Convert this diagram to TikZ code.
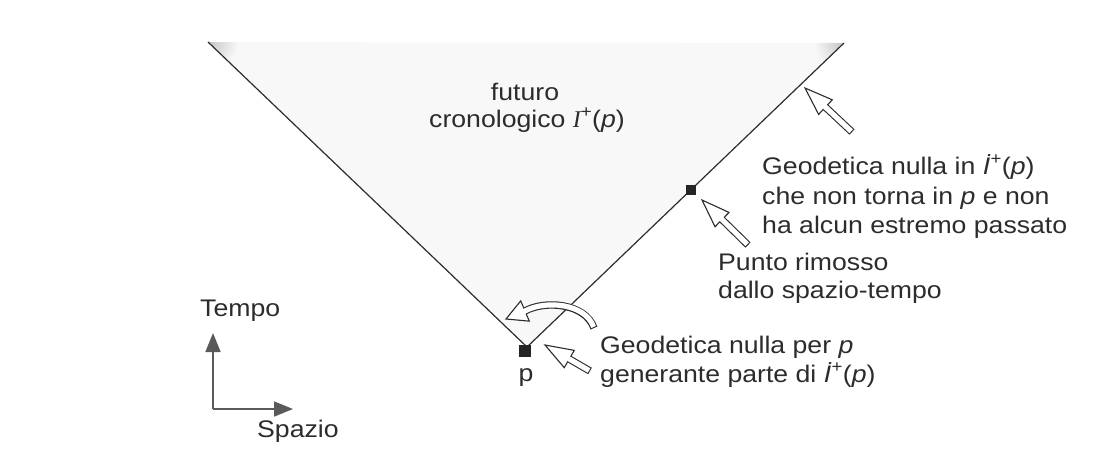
\documentclass[tikz,border=0pt]{standalone}
\usepackage{fontspec}
\setmainfont[FakeStretch=1.11]{Liberation Sans}
\newfontfamily\serifit{Liberation Serif}
\usetikzlibrary{calc,arrows.meta}
\definecolor{ink}{HTML}{2C2C2C}
\definecolor{axiscol}{HTML}{5A5A5A}
\definecolor{conefill}{HTML}{F8F8F8}
\definecolor{cornergray}{HTML}{C4C4C4}
\tikzset{
  lbl/.style={anchor=base west, inner sep=0pt, text=ink, font=\fontsize{24}{29.5}\selectfont},
  cone/.style={draw=ink, line width=1.2pt},
  pointsq/.style={fill=ink!85!black, draw=none, inner sep=0pt},
  axis/.style={draw=axiscol, line width=1.6pt, -{Triangle[length=19pt,width=15pt]}},
  arrout/.style={draw=ink, line width=7.4pt},
  arrin/.style={draw=white, line width=5.2pt},
  arrhead/.style={fill=white, draw=ink, line width=1.1pt, line join=miter},
}
\newcommand\hollowarrow[2]{%
  \coordinate (hb) at ($(#2)!28pt!(#1)$);
  \coordinate (h1) at ($(hb)!10pt!90:(#2)$);
  \coordinate (h2) at ($(hb)!10pt!-90:(#2)$);
  \coordinate (ta) at ($(#1)!1.1pt!(#2)$);
  \coordinate (hc) at ($(hb)!1.5pt!(#2)$);
  \path[arrhead] (#2) -- (h1) -- (h2) -- cycle;
  \path[arrout] (#1) -- (hb);
  \path[arrin] (ta) -- (hc);
}
\begin{document}
\begin{tikzpicture}[x=1pt,y=-1pt]
\useasboundingbox (0,0) rectangle (1107,464);
% cone
\coordinate (L) at (208,42);
\coordinate (A) at (527,347);
\coordinate (R) at (844,43);
\fill[conefill] (L) -- (A) -- (R) -- cycle;
\begin{scope}
  \clip (L) -- (A) -- (R) -- cycle;
  \shade[inner color=cornergray, outer color=conefill] (L) circle (30pt);
  \shade[inner color=cornergray, outer color=conefill] (R) circle (30pt);
\end{scope}
\path[cone] (L) -- (A) -- (R);
% points
\node[pointsq, minimum size=12pt] (p) at (525,351) {};
\node[pointsq, minimum size=10pt] (q) at ($(A)!0.516!(R)$) {};
% labels
\node[lbl, anchor=base] (fut1) at (525,100) {futuro};
\node[lbl, anchor=base] (fut2) at (527,127) {cronologico {\serifit\itshape I}\textsuperscript{+}(\textit{p})};
\node[lbl] (g1) at (762,174) {Geodetica nulla in \textit{İ}\textsuperscript{+}(\textit{p})};
\node[lbl] (g2) at (762,204) {che non torna in \textit{p} e non};
\node[lbl] (g3) at (762,233) {ha alcun estremo passato};
\node[lbl] (r1) at (718,270) {Punto rimosso};
\node[lbl] (r2) at (718,298) {dallo spazio-tempo};
\node[lbl] (n1) at (600,353) {Geodetica nulla per \textit{p}};
\node[lbl] (n2) at (600,382) {generante parte di \textit{İ}\textsuperscript{+}(\textit{p})};
\node[lbl, anchor=base] (plab) at (526,381) {p};
\node[lbl] (tempo) at (200,316) {Tempo};
\node[lbl] (spazio) at (257,437) {Spazio};
% hollow arrows
\coordinate (a1tail) at (852,132);
\coordinate (a1tip) at (805,88);
\hollowarrow{a1tail}{a1tip}
\coordinate (a2tail) at (748,245);
\coordinate (a2tip) at (702,200);
\hollowarrow{a2tail}{a2tip}
\coordinate (a3tail) at (590,371);
\coordinate (a3tip) at (545,345);
\hollowarrow{a3tail}{a3tip}
% curved arrow
\coordinate (ctail) at (594,328);
\coordinate (ctip) at (506,319);
\coordinate (chb) at (525,311);
\coordinate (cc1) at (585,303);
\coordinate (cc2) at (545,300);
\coordinate (ch1) at ($(chb)!11pt!90:(ctip)$);
\coordinate (ch2) at ($(chb)!11pt!-90:(ctip)$);
\coordinate (cta) at ($(ctail)!1.1pt!(cc1)$);
\coordinate (chc) at ($(chb)!1.5pt!(ctip)$);
\path[arrhead] (ctip) -- (ch1) -- (ch2) -- cycle;
\path[arrout] (ctail) .. controls (cc1) and (cc2) .. (chb);
\path[arrin] (cta) .. controls (cc1) and (cc2) .. (chb) -- (chc);
% axes
\coordinate (O) at (213,409);
\coordinate (Ty) at (213,333);
\coordinate (Sx) at (293,409);
\path[axis] (O) -- (Ty);
\path[axis] (O) -- (Sx);
\end{tikzpicture}
\end{document}
